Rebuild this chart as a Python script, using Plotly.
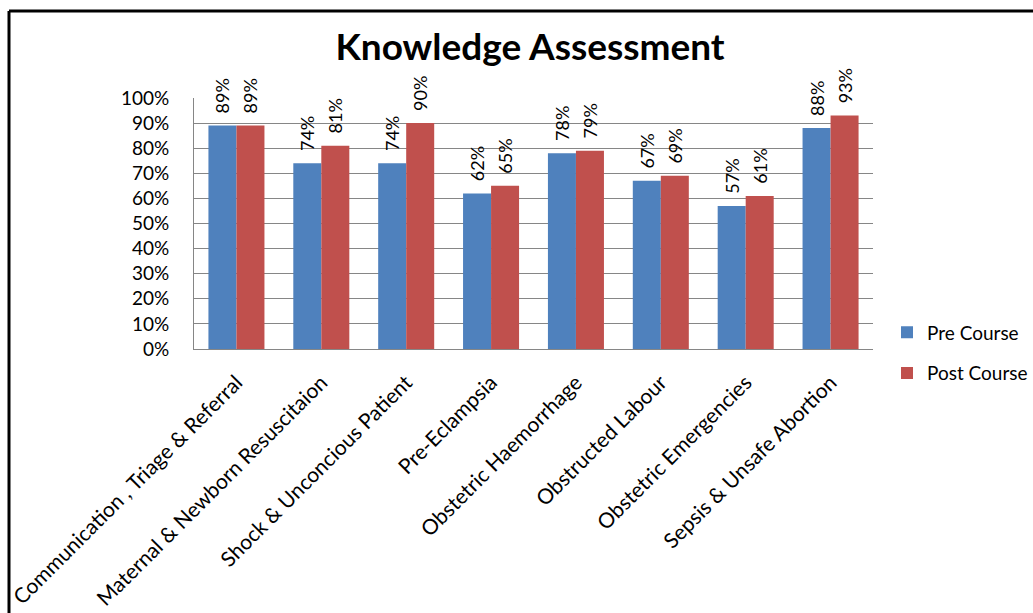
import plotly.graph_objects as go

categories = ["Communication , Triage & Referral", "Maternal & Newborn Resuscitaion",
              "Shock & Unconcious Patient", "Pre-Eclampsia", "Obstetric Haemorrhage",
              "Obstructed Labour", "Obstetric Emergencies", "Sepsis & Unsafe Abortion"]
pre_course = [0.89, 0.74, 0.74, 0.62, 0.78, 0.67, 0.57, 0.88]
post_course = [0.89, 0.81, 0.90, 0.65, 0.79, 0.69, 0.61, 0.93]

FONT = "Lato, Open Sans, sans-serif"
L, R, T, B = 194, 160, 98, 264
W, H = 1033, 613
pw, ph = W - L - R, H - T - B

def px_x(px):
    return (px - L) / pw

def px_y(py):
    return (H - B - py) / ph

PAD = "\u00a0\u00a0"

fig = go.Figure()
fig.add_trace(go.Bar(x=categories, y=pre_course, name="Pre Course", marker_color="#4F81BD",
                     marker_line_width=0, legendgroup="pre",
                     text=[f"{PAD}{round(v*100)}%" for v in pre_course], textposition="outside",
                     textangle=-90, cliponaxis=False, constraintext="none",
                     textfont=dict(family=FONT, size=18, color="#000000")))
fig.add_trace(go.Bar(x=categories, y=post_course, name="Post Course", marker_color="#C0504D",
                     marker_line_width=0, legendgroup="post",
                     text=[f"{PAD}{round(v*100)}%" for v in post_course], textposition="outside",
                     textangle=-90, cliponaxis=False, constraintext="none",
                     textfont=dict(family=FONT, size=18, color="#000000")))

fig.update_layout(
    width=W, height=H,
    margin=dict(l=L, r=R, t=T, b=B, autoexpand=False),
    paper_bgcolor="white", plot_bgcolor="white",
    barmode="group", bargap=0.34, bargroupgap=0,
    font=dict(family=FONT, color="#000000"),
    title=dict(text="<b>Knowledge Assessment</b>", x=px_x(530), xref="paper",
               y=1 - 47 / H, yref="container", xanchor="center", yanchor="middle",
               font=dict(family=FONT, size=37, color="#000000")),
    legend=dict(x=px_x(887), y=px_y(353), xref="paper", yref="paper",
                xanchor="left", yanchor="middle", font=dict(family=FONT, size=19),
                traceorder="grouped", tracegroupgap=13, itemsizing="constant",
                bgcolor="rgba(0,0,0,0)"),
    showlegend=True,
    uniformtext=dict(minsize=18, mode="show"),
)
fig.update_xaxes(tickangle=-45, tickfont=dict(family=FONT, size=21, color="#000000"),
                 showline=True, linecolor="#868686", linewidth=1, showgrid=False,
                 ticks="", automargin=False, ticklabelstandoff=12)
fig.update_yaxes(range=[0, 1], dtick=0.1, tickformat=".0%",
                 tickfont=dict(family=FONT, size=19, color="#000000"),
                 showgrid=True, gridcolor="#868686", gridwidth=1,
                 showline=True, linecolor="#868686", linewidth=1, zeroline=False,
                 ticks="", automargin=False, ticklabelstandoff=20)

# chart frame (top and left edges visible)
fig.add_shape(type="line", xref="paper", yref="paper", x0=px_x(9), x1=px_x(1040),
              y0=px_y(11), y1=px_y(11), line=dict(color="black", width=3))
fig.add_shape(type="line", xref="paper", yref="paper", x0=px_x(9), x1=px_x(9),
              y0=px_y(11), y1=px_y(620), line=dict(color="black", width=3))

fig.write_html("out.html")
